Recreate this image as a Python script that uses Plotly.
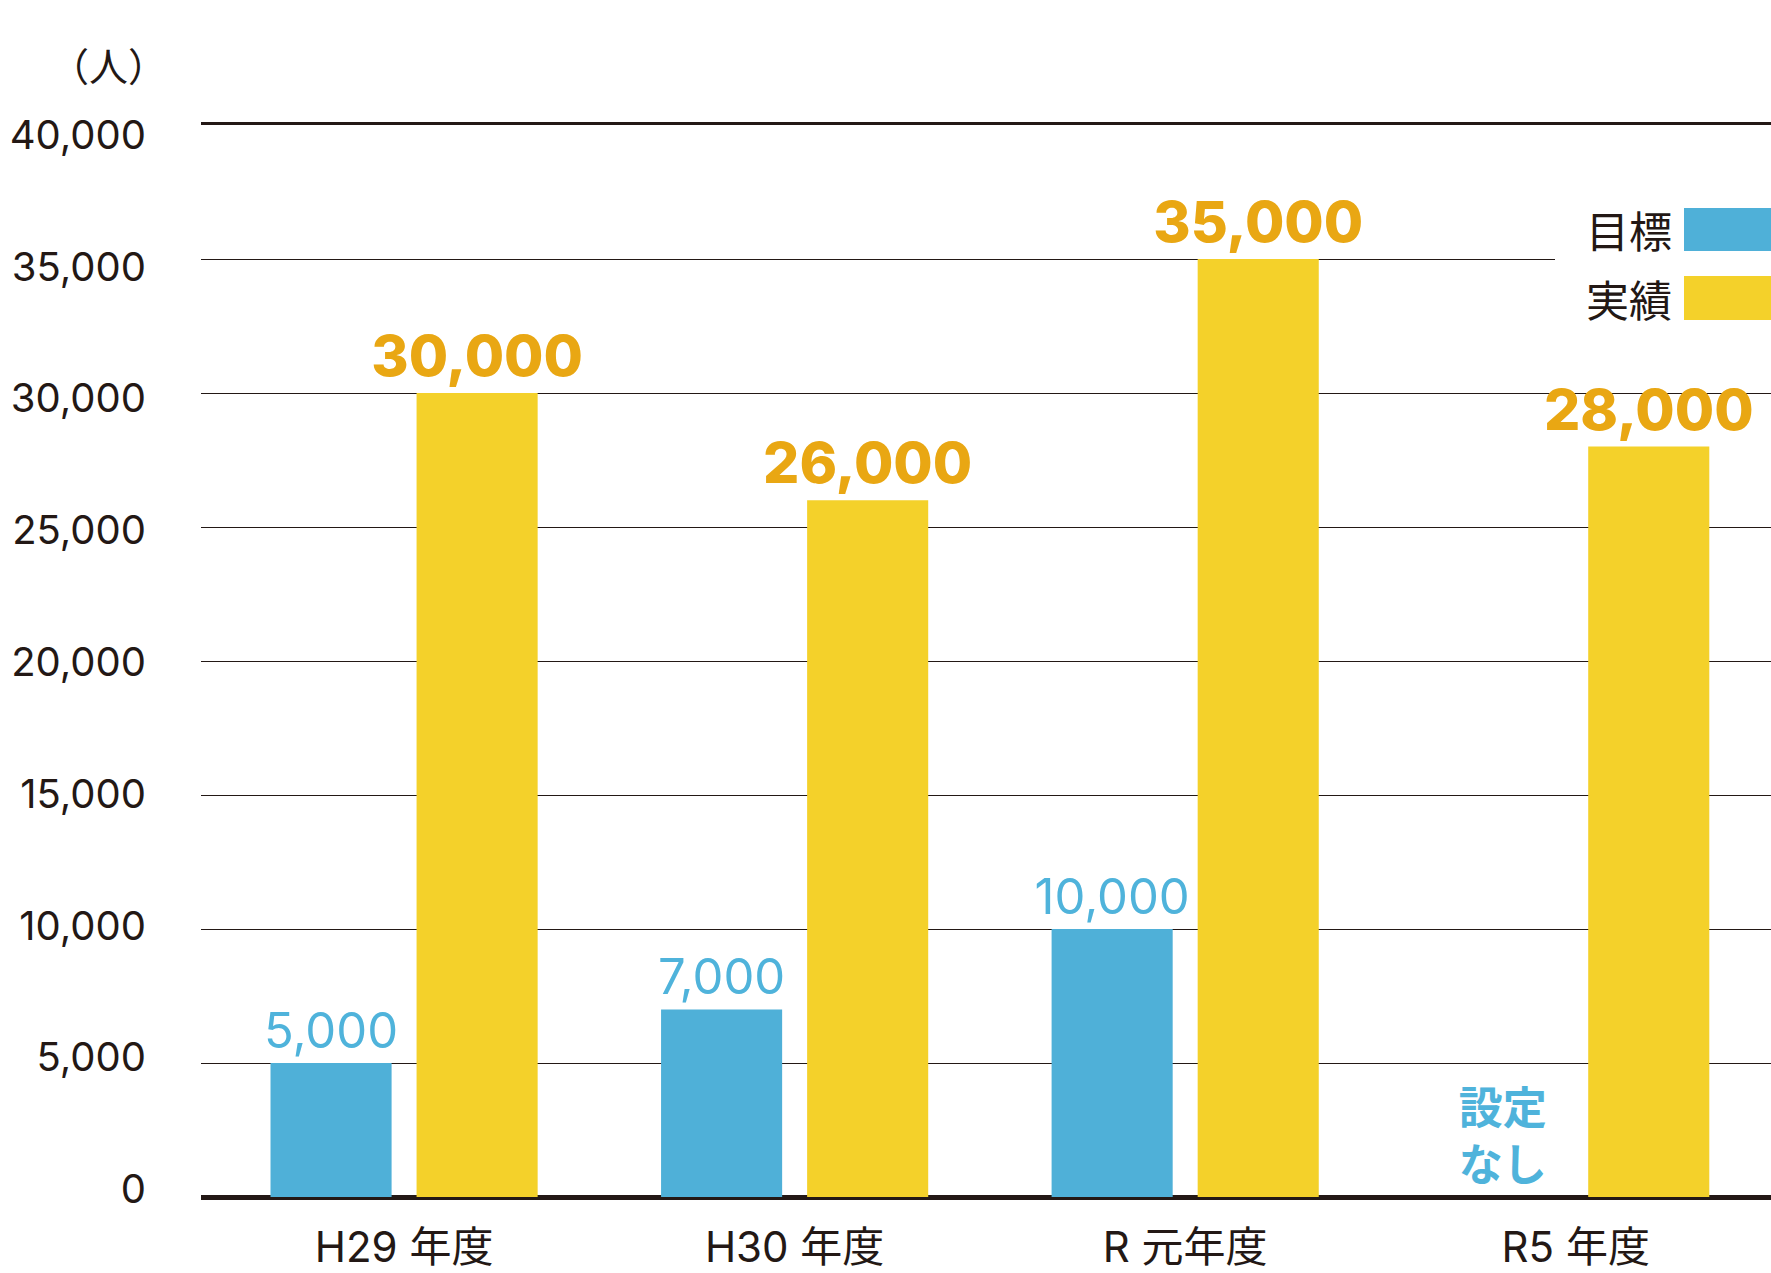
import plotly.graph_objects as go

categories = ["H29 年度", "H30 年度", "R 元年度", "R5 年度"]
target_values = [5000, 7000, 10000, 0]
target_labels = ["5,000", "7,000", "10,000", "<b>設定<br>なし</b>"]
actual_values = [30000, 26000, 35000, 28000]
actual_labels = ["30,000", "26,000", "35,000", "28,000"]
y_ticks = [0, 5000, 10000, 15000, 20000, 25000, 30000, 35000, 40000]
legend_names = ["目標", "実績"]
unit_label = "（人）"

BLUE = "#4FB0D8"
BLUE_TXT = "#4FB3DB"
YELLOW = "#F4D12A"
ORANGE = "#E9A713"
DARK = "#231815"
JP = "Noto Sans CJK JP"
LAT = "Inter, Noto Sans CJK JP"

fig = go.Figure()
fig.add_trace(go.Bar(
    x=categories, y=target_values, name=legend_names[0],
    marker=dict(color=BLUE, line=dict(width=0)),
    text=target_labels, texttemplate="%{text}", textposition="outside",
    textfont=dict(family=[LAT, LAT, LAT, JP], size=[49, 49, 49, 44], color=BLUE_TXT),
    constraintext="none", cliponaxis=False, hoverinfo="skip",
))
fig.add_trace(go.Bar(
    x=categories, y=actual_values, name=legend_names[1],
    marker=dict(color=YELLOW, line=dict(width=0)),
    text=actual_labels, texttemplate="%{text}", textposition="outside",
    textfont=dict(family=LAT, size=57, color=ORANGE, weight=800),
    constraintext="none", cliponaxis=False, hoverinfo="skip",
))
# invisible trace so the label axis (y2) is rendered
fig.add_trace(go.Scatter(x=[categories[0]], y=[None], yaxis="y2",
                         mode="markers", showlegend=False, hoverinfo="skip"))

fig.update_layout(
    width=1771, height=1273,
    margin=dict(l=201, r=0, t=125, b=76, pad=0, autoexpand=False),
    paper_bgcolor="white", plot_bgcolor="white",
    barmode="group", bargap=0.252, bargroupgap=0.171,
    showlegend=False,
    font=dict(family=JP, color=DARK, size=40),
    xaxis=dict(
        type="category", range=[-0.52, 3.5], automargin=False,
        showgrid=False, zeroline=False,
        showline=True, mirror=True, linecolor=DARK, linewidth=3,
        ticks="", ticklabelstandoff=12,
        tickfont=dict(family=LAT, size=42, color=DARK),
    ),
    yaxis=dict(
        range=[0, 40000], tickvals=y_ticks, automargin=False,
        showgrid=True, gridcolor=DARK, gridwidth=1.3,
        zeroline=True, zerolinecolor=DARK, zerolinewidth=4,
        showticklabels=False, ticks="",
    ),
    yaxis2=dict(
        overlaying="y", side="left", automargin=False,
        range=[-303, 40379], tickvals=y_ticks, tickformat=",",
        showgrid=False, zeroline=False, showline=False, ticks="",
        ticklabelstandoff=54,
        tickfont=dict(family=LAT, size=40, color=DARK),
    ),
)

# unit label
fig.add_annotation(text=unit_label, xref="paper", yref="paper",
                   x=(108 - 201) / 1570, y=(1197 - 64) / 1072,
                   xanchor="center", yanchor="middle", showarrow=False,
                   font=dict(family=JP, size=39, color=DARK))

# custom legend (text on the left, swatch on the right)
fig.add_shape(type="rect", xref="paper", yref="paper",
              x0=(1555 - 201) / 1570, x1=1.0,
              y0=(1197 - 345) / 1072, y1=(1197 - 185) / 1072,
              fillcolor="white", line=dict(width=0), layer="above")
legend_colors = [BLUE, YELLOW]
legend_rows = [(208, 251), (276, 320)]
for name, col, (top, bot) in zip(legend_names, legend_colors, legend_rows):
    fig.add_shape(type="rect", xref="paper", yref="paper",
                  x0=(1684 - 201) / 1570, x1=1.0,
                  y0=(1197 - bot) / 1072, y1=(1197 - top) / 1072,
                  fillcolor=col, line=dict(width=0), layer="above")
    fig.add_annotation(text=name, xref="paper", yref="paper",
                       x=(1674 - 201) / 1570, y=(1197 - (top + bot) / 2) / 1072,
                       xanchor="right", yanchor="middle", showarrow=False,
                       font=dict(family=JP, size=43, color=DARK))

fig.write_html("out.html", config={"displayModeBar": False},
               post_script="document.body.style.margin='0';document.body.style.overflow='hidden';")
